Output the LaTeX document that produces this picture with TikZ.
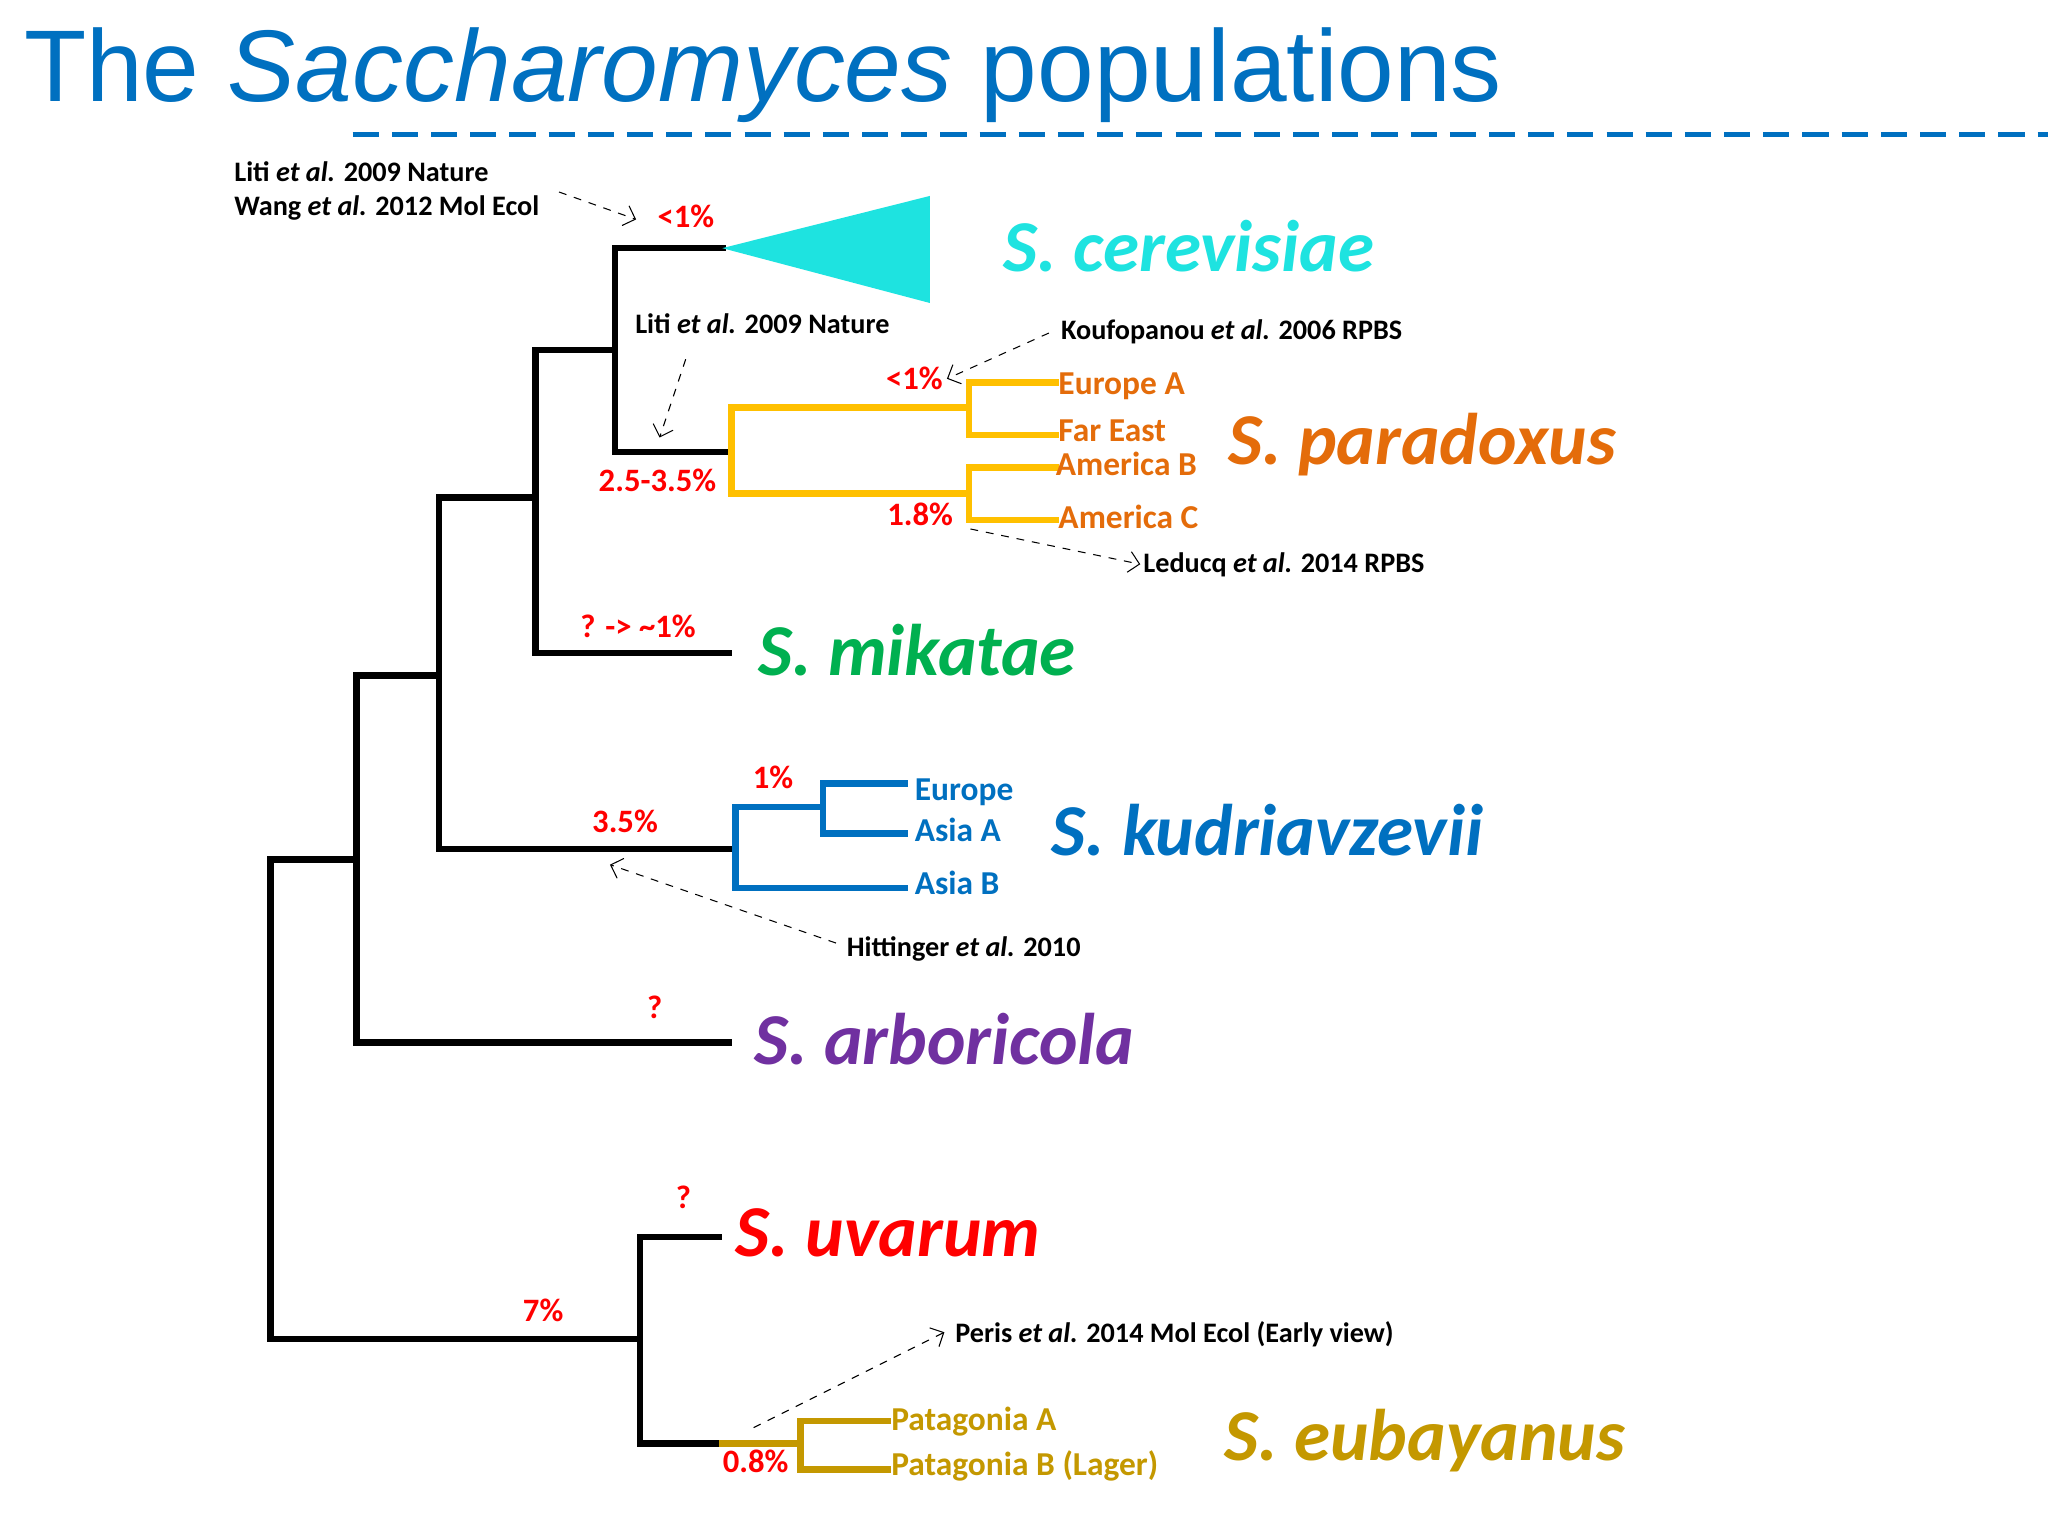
\documentclass[tikz,border=0pt]{standalone}
\usepackage{fontspec}
\setmainfont{Carlito}
\newfontfamily\titlefont{Liberation Sans}
\usetikzlibrary{arrows.meta}
\definecolor{tblue}{RGB}{0,112,192}
\definecolor{cyanc}{RGB}{30,227,224}
\definecolor{porange}{RGB}{228,108,10}
\definecolor{pyellow}{RGB}{255,192,0}
\definecolor{mgreen}{RGB}{0,176,80}
\definecolor{apurple}{RGB}{112,48,160}
\definecolor{egold}{RGB}{196,152,0}
\begin{document}
\begin{tikzpicture}[x=0.5pt,y=-0.5pt,
  br/.style={line width=2.5pt,line cap=rect},
  ref/.style={font=\fontsize{10.8}{12}\selectfont\bfseries,anchor=base west,inner sep=0pt},
  pct/.style={font=\fontsize{12.5}{14}\selectfont\bfseries,text=red,anchor=base west,inner sep=0pt},
  sub/.style={font=\fontsize{12.8}{14}\selectfont\bfseries,anchor=base west,inner sep=0pt},
  sp/.style={font=\fontsize{28}{32}\selectfont\bfseries\itshape,anchor=base west,inner sep=0pt},
  darr/.style={dashed,thin,-{Straight Barb[length=4pt]}}]
\useasboundingbox (0,0) rectangle (1568,1176);
\fill[white] (0,0) rectangle (1568,1176);
\node[anchor=base west,inner sep=0pt,text=tblue,font=\titlefont\fontsize{39}{42}\selectfont] (title) at (18,78) {The \textit{Saccharomyces} populations};
\draw[tblue,line width=2pt,dash pattern=on 10pt off 5pt] (270,103) coordinate (d1) -- (1568,103) coordinate (d2);
% black tree
\draw[br] (207,658) -- (207,1025);
\draw[br] (207,658) -- (273,658);
\draw[br] (273,517) -- (273,798) -- (558,798);
\draw[br] (273,517) -- (336,517);
\draw[br] (336,381) -- (336,650) -- (560,650);
\draw[br] (336,381) -- (410,381);
\draw[br] (410,268) -- (410,500) -- (558,500);
\draw[br] (410,268) -- (471,268);
\draw[br] (553,190) -- (471,190) -- (471,346) -- (558,346);
\fill[cyanc] (553,190) -- (712,150) -- (712,232) -- cycle;
\draw[br] (207,1025) -- (490,1025);
\draw[br] (550,947) -- (490,947) -- (490,1105) -- (553,1105);
% paradoxus
\draw[br,pyellow] (808,293) -- (742,293) -- (742,333) -- (808,333);
\draw[br,pyellow] (808,358) -- (742,358) -- (742,398) -- (808,398);
\draw[br,pyellow] (742,312) -- (560,312) -- (560,378) -- (742,378);
% kudriavzevii
\draw[br,tblue] (693,600) -- (630,600) -- (630,638) -- (693,638);
\draw[br,tblue] (630,618) -- (563,618) -- (563,680) -- (693,680);
% eubayanus
\draw[br,egold] (680,1088) -- (613,1088) -- (613,1125) -- (680,1125);
\draw[br,egold] (553,1105) -- (613,1105);
% labels
\node[ref] (r1) at (179,139) {Liti \textit{et al.} 2009 Nature};
\node[ref] (r2) at (179,165) {Wang \textit{et al.} 2012 Mol Ecol};
\node[pct] (p1) at (503,174) {<1\%};
\node[sp,text=cyanc] (scer) at (768,208) {S. cerevisiae};
\node[ref] (r3) at (486,255) {Liti \textit{et al.} 2009 Nature};
\node[ref] (r4) at (812,260) {Koufopanou \textit{et al.} 2006 RPBS};
\node[pct] (p2) at (678,298) {<1\%};
\node[sub,text=porange] (ea) at (810,302) {Europe A};
\node[sub,text=porange] (fe) at (810,338) {Far East};
\node[sub,text=porange] (ab) at (808,364) {America B};
\node[sub,text=porange] (ac) at (810,405) {America C};
\node[sp,text=porange] (spar) at (940,356) {S. paradoxus};
\node[pct] (p3) at (458,376) {2.5-3.5\%};
\node[pct] (p4) at (679,402) {1.8\%};
\node[ref] (r5) at (875,438) {Leducq \textit{et al.} 2014 RPBS};
\node[pct] (p5) at (444,488) {? -> \textasciitilde1\%};
\node[sp,text=mgreen] (smik) at (580,517) {S. mikatae};
\node[pct] (p6) at (576,604) {1\%};
\node[pct] (p7) at (453,637) {3.5\%};
\node[sub,text=tblue] (eu) at (700,613) {Europe};
\node[sub,text=tblue] (aa) at (700,644) {Asia A};
\node[sub,text=tblue] (abb) at (700,685) {Asia B};
\node[sp,text=tblue] (skud) at (805,655) {S. kudriavzevii};
\node[ref] (r6) at (648,732) {Hittinger \textit{et al.} 2010};
\node[pct] (p8) at (495,780) {?};
\node[sp,text=apurple] (sarb) at (577,815) {S. arboricola};
\node[pct] (p9) at (517,925) {?};
\node[sp,text=red] (suva) at (563,962) {S. uvarum};
\node[pct] (p10) at (400,1012) {7\%};
\node[ref] (r7) at (731,1028) {Peris \textit{et al.} 2014 Mol Ecol (Early view)};
\node[sub,text=egold] (pa) at (682,1095) {Patagonia A};
\node[sub,text=egold] (pb) at (682,1130) {Patagonia B (Lager)};
\node[pct] (p11) at (553,1127) {0.8\%};
\node[sp,text=egold] (seub) at (937,1118) {S. eubayanus};
% arrows
\coordinate (a1s) at (428,147); \coordinate (a1e) at (487,168);
\draw[darr] (a1s) -- (a1e);
\coordinate (a2s) at (525,275); \coordinate (a2e) at (505,335);
\draw[darr] (a2s) -- (a2e);
\coordinate (a3s) at (803,255); \coordinate (a3e) at (725,290);
\draw[darr] (a3s) -- (a3e);
\coordinate (a4s) at (743,405); \coordinate (a4e) at (873,432);
\draw[darr] (a4s) -- (a4e);
\coordinate (a5s) at (640,722); \coordinate (a5e) at (467,662);
\draw[darr] (a5s) -- (a5e);
\coordinate (a6s) at (577,1093); \coordinate (a6e) at (723,1020);
\draw[darr] (a6s) -- (a6e);
\end{tikzpicture}
\end{document}
